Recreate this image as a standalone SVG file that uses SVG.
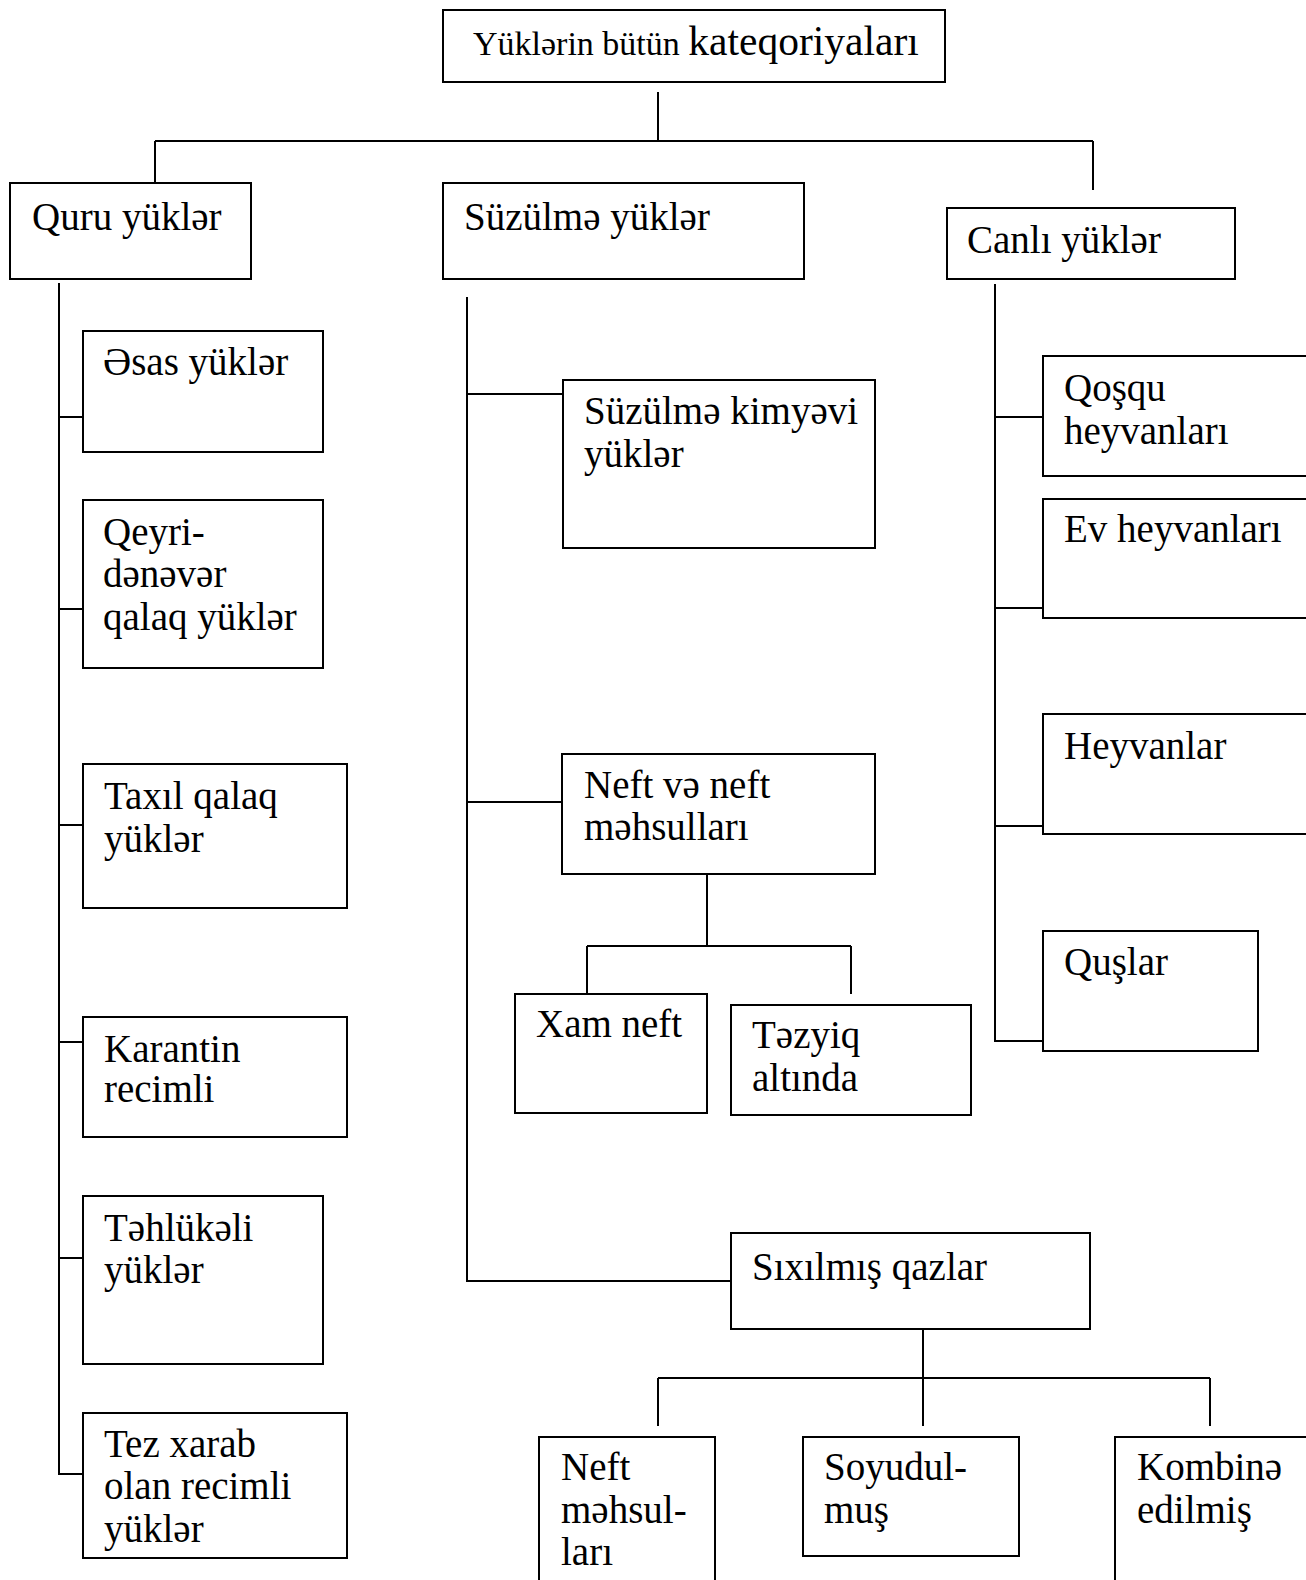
<svg xmlns="http://www.w3.org/2000/svg" width="1306" height="1580" viewBox="0 0 1306 1580">
<style>
.box{fill:#fff;stroke:#000;stroke-width:2}
.ln{fill:none;stroke:#000;stroke-width:2}
text{font-family:"Liberation Serif","Times New Roman",serif;font-size:39px;fill:#000}
</style>
<rect width="1306" height="1580" fill="#fff"/>
<g id="connectors">
<path class="ln" d="M658,92 V141 M155,141 H1093 M155,141 V188 M1093,141 V190"/>
<path class="ln" d="M59,283 V1474 H83 M59,417 H83 M59,609 H83 M59,825 H83 M59,1042 H83 M59,1258 H83"/>
<path class="ln" d="M467,297 V1281 H731 M467,394 H563 M467,802 H562"/>
<path class="ln" d="M707,874 V946 M587,946 H851 M587,946 V994 M851,946 V994"/>
<path class="ln" d="M923,1329 V1378 M658,1378 H1210 M658,1378 V1426 M923,1378 V1426 M1210,1378 V1426"/>
<path class="ln" d="M995,284 V1041 H1043 M995,417 H1043 M995,608 H1043 M995,826 H1043"/>
</g>
<g id="n-root"><rect class="box" x="443" y="10" width="502" height="72"/><text x="473" y="55"><tspan font-size="34">Yüklərin bütün </tspan><tspan font-size="41.5">kateqoriyaları</tspan></text></g>
<g id="n-quru"><rect class="box" x="10" y="183" width="241" height="96"/><text x="32" y="230">Quru yüklər</text></g>
<g id="n-suzulme"><rect class="box" x="443" y="183" width="361" height="96"/><text x="464" y="230">Süzülmə yüklər</text></g>
<g id="n-canli"><rect class="box" x="947" y="208" width="288" height="71"/><text x="967" y="253">Canlı yüklər</text></g>
<g id="n-esas"><rect class="box" x="83" y="331" width="240" height="121"/><text x="103" y="375">Əsas yüklər</text></g>
<g id="n-qeyri"><rect class="box" x="83" y="500" width="240" height="168"/><text x="103" y="545">Qeyri-</text><text x="103" y="587">dənəvər</text><text x="103" y="630">qalaq yüklər</text></g>
<g id="n-taxil"><rect class="box" x="83" y="764" width="264" height="144"/><text x="104" y="809">Taxıl qalaq</text><text x="104" y="852">yüklər</text></g>
<g id="n-karantin"><rect class="box" x="83" y="1017" width="264" height="120"/><text x="104" y="1062">Karantin</text><text x="104" y="1102">recimli</text></g>
<g id="n-tehlukeli"><rect class="box" x="83" y="1196" width="240" height="168"/><text x="104" y="1241">Təhlükəli</text><text x="104" y="1283">yüklər</text></g>
<g id="n-tez"><rect class="box" x="83" y="1413" width="264" height="145"/><text x="104" y="1457">Tez xarab</text><text x="104" y="1499">olan recimli</text><text x="104" y="1542">yüklər</text></g>
<g id="n-kimyevi"><rect class="box" x="563" y="380" width="312" height="168"/><text x="584" y="424">Süzülmə kimyəvi</text><text x="584" y="467">yüklər</text></g>
<g id="n-neft"><rect class="box" x="562" y="754" width="313" height="120"/><text x="584" y="798">Neft və neft</text><text x="584" y="840">məhsulları</text></g>
<g id="n-xam"><rect class="box" x="515" y="994" width="192" height="119"/><text x="536" y="1037">Xam neft</text></g>
<g id="n-tezyiq"><rect class="box" x="731" y="1005" width="240" height="110"/><text x="752" y="1048">Təzyiq</text><text x="752" y="1091">altında</text></g>
<g id="n-sixilmis"><rect class="box" x="731" y="1233" width="359" height="96"/><text x="752" y="1280">Sıxılmış qazlar</text></g>
<g id="n-neftmehsul"><rect class="box" x="539" y="1437" width="176" height="180"/><text x="561" y="1480">Neft</text><text x="561" y="1523">məhsul-</text><text x="561" y="1565">ları</text></g>
<g id="n-soyudulmus"><rect class="box" x="803" y="1437" width="216" height="119"/><text x="824" y="1480">Soyudul-</text><text x="824" y="1523">muş</text></g>
<g id="n-kombine"><rect class="box" x="1115" y="1437" width="220" height="180"/><text x="1137" y="1480">Kombinə</text><text x="1137" y="1523">edilmiş</text></g>
<g id="n-qosqu"><rect class="box" x="1043" y="356" width="290" height="120"/><text x="1064" y="401">Qoşqu</text><text x="1064" y="444">heyvanları</text></g>
<g id="n-ev"><rect class="box" x="1043" y="499" width="290" height="119"/><text x="1064" y="542">Ev heyvanları</text></g>
<g id="n-heyvanlar"><rect class="box" x="1043" y="714" width="290" height="120"/><text x="1064" y="759">Heyvanlar</text></g>
<g id="n-quslar"><rect class="box" x="1043" y="931" width="215" height="120"/><text x="1064" y="975">Quşlar</text></g>
</svg>
